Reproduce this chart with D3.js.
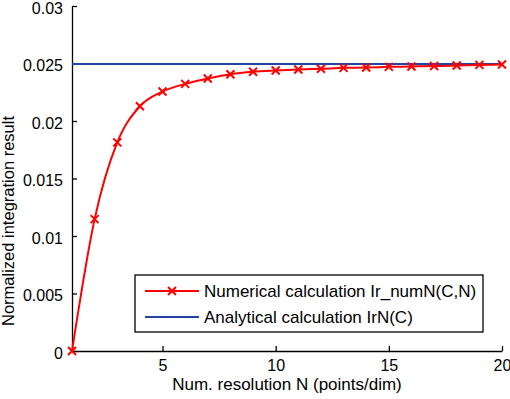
<!DOCTYPE html>
<html>
<head>
<meta charset="utf-8">
<script src="https://cdn.jsdelivr.net/npm/d3@7"></script>
<style>
  body { margin: 0; background: #fff; }
  svg { display: block; font-family: "Liberation Sans", Arial, sans-serif; }
</style>
</head>
<body>
<div id="root"></div>
<script>
// данные
const resolutionN = [1, 2, 3, 4, 5, 6, 7, 8, 9, 10, 11, 12, 13, 14, 15, 16, 17, 18, 19, 20];
const numericalValues = [0, 0.01147, 0.01814, 0.02128, 0.02256, 0.02323, 0.02369, 0.02407, 0.02428, 0.02439,
  0.02448, 0.02454, 0.02462, 0.02465, 0.02471, 0.02474, 0.02478, 0.02482, 0.02488, 0.02491];
const analyticalValue = 0.02495;
const xTicks = [5, 10, 15, 20];
const yTicks = [0, 0.005, 0.01, 0.015, 0.02, 0.025, 0.03];
const seriesNames = ['Numerical calculation Ir_numN(C,N)', 'Analytical calculation IrN(C)'];

const width = 510, height = 399;
const margin = { top: 6, right: 8, bottom: 48, left: 72 };
const innerW = width - margin.left - margin.right;
const innerH = height - margin.top - margin.bottom;

const red = '#ff0000', blue = '#2443a6';

const svg = d3.select('#root').append('svg')
  .attr('width', width)
  .attr('height', height);

const g = svg.append('g')
  .attr('transform', `translate(${margin.left},${margin.top})`);

// шкалы
const x = d3.scaleLinear().domain([1, 20]).range([0, innerW]);
const y = d3.scaleLinear().domain([0, 0.03]).range([innerH, 0]);

// ось X (тики внутрь)
const gx = g.append('g')
  .attr('transform', `translate(0,${innerH})`)
  .call(d3.axisBottom(x).tickValues(xTicks).tickSizeInner(-5).tickSizeOuter(0).tickPadding(9));

// ось Y
const gy = g.append('g')
  .call(d3.axisLeft(y).tickValues(yTicks).tickSizeInner(-5).tickSizeOuter(0).tickPadding(9)
    .tickFormat(d => d === 0 ? '0' : String(+d.toFixed(3))));

[gx, gy].forEach(a => {
  a.select('.domain').attr('stroke', '#000').attr('stroke-width', 1.3);
  a.selectAll('.tick line').attr('stroke', '#000').attr('stroke-width', 1.3);
  a.selectAll('.tick text').attr('font-size', 16).attr('fill', '#000')
    .attr('font-family', '"Liberation Sans", Arial, sans-serif');
});
gy.selectAll('.tick text').attr('dy', '0.45em');

// подписи осей
g.append('text')
  .attr('x', innerW / 2)
  .attr('y', innerH + 39)
  .attr('text-anchor', 'middle')
  .attr('font-size', 17)
  .text('Num. resolution N (points/dim)');

g.append('text')
  .attr('transform', `translate(${-58},${215}) rotate(-90)`)
  .attr('text-anchor', 'middle')
  .attr('font-size', 16.5)
  .text('Normalized integration result');

// аналитическое значение
g.append('line')
  .attr('x1', x(1)).attr('x2', x(20))
  .attr('y1', y(analyticalValue)).attr('y2', y(analyticalValue))
  .attr('stroke', blue)
  .attr('stroke-width', 2);

// численный расчёт
const pts = resolutionN.map((n, i) => [n, numericalValues[i]]);
const line = d3.line()
  .x(d => x(d[0]))
  .y(d => y(d[1]))
  .curve(d3.curveMonotoneX);

g.append('path')
  .datum(pts)
  .attr('d', line)
  .attr('fill', 'none')
  .attr('stroke', red)
  .attr('stroke-width', 2);

const cross = (sel, cx, cy, r) => {
  sel.append('path')
    .attr('d', `M${cx - r},${cy - r}L${cx + r},${cy + r}M${cx - r},${cy + r}L${cx + r},${cy - r}`)
    .attr('stroke', red)
    .attr('stroke-width', 2)
    .attr('fill', 'none');
};
pts.forEach(d => cross(g, x(d[0]), y(d[1]), 4));

// легенда
const lg = svg.append('g').attr('transform', 'translate(135,275)');
lg.append('rect')
  .attr('width', 348).attr('height', 57)
  .attr('fill', '#fff')
  .attr('stroke', '#000')
  .attr('stroke-width', 1.3);

const rows = [{ color: red, marker: true }, { color: blue, marker: false }];
rows.forEach((r, i) => {
  const cy = 16 + i * 26;
  lg.append('line')
    .attr('x1', 10).attr('x2', 64)
    .attr('y1', cy).attr('y2', cy)
    .attr('stroke', r.color)
    .attr('stroke-width', 2);
  if (r.marker) cross(lg, 37, cy, 4);
  lg.append('text')
    .attr('x', 69)
    .attr('y', cy + 6)
    .attr('font-size', 17)
    .text(seriesNames[i]);
});
</script>
</body>
</html>
